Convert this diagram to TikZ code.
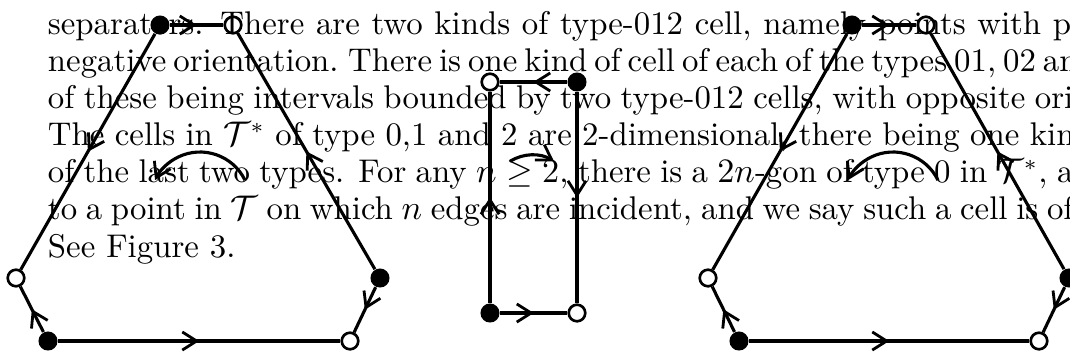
\documentclass[tikz,border=0pt]{standalone}
\usetikzlibrary{arrows.meta,decorations.markings}
\tikzset{
  x=0.32pt, y=-0.32pt,
  mybarb/.tip={Straight Barb[length=4.6pt,width=5.8pt,line width=0.9pt]},
  fdot/.style={circle,fill=black,inner sep=0pt,minimum size=6.1pt},
  odot/.style={circle,draw=black,line width=0.85pt,inner sep=0pt,minimum size=5.3pt},
  edgeline/.style={line width=1pt},
  midarr/.style={edgeline,postaction={decorate},
    decoration={markings,mark=at position 0.5 with {\arrow{mybarb}}}},
  arcline/.style={line width=1pt,-{mybarb}},
  txt/.style={anchor=base west,inner sep=0pt,outer sep=0pt,font=\fontsize{10.5pt}{12.6pt}\selectfont}
}
\begin{document}
\begin{tikzpicture}
\useasboundingbox (0,0) rectangle (1070,357);
\clip (0,0) rectangle (1070,357);
% text
\node[txt] (t1) at (48,34) {\makebox[321.6pt][s]{separators. There are two kinds of type-012 cell, namely points with \mbox{}}p};
\node[txt] (t2) at (48,71.2) {\spaceskip=0.22em plus 0.3em minus 0.08em\xspaceskip=0.3em plus 0.3em minus 0.08em\makebox[318.4pt][s]{negative orientation. There is one kind of cell of each of the types 01, 02 \mbox{}}and};
\node[txt] (t3) at (48,108.3) {\makebox[315.8pt][s]{of these being intervals bounded by two type-012 cells, with opposite \mbox{}}ori};
\node[txt] (t4) at (48,145.5) {\makebox[314.2pt][s]{The cells in $\mathcal{T}^*$ of type 0,1 and 2 are 2-dimensional, there being one \mbox{}}kin};
\node[txt] (t5) at (48,182.7) {\makebox[322.9pt][s]{of the last two types. For any $n\geq 2$, there is a $2n$-gon of type 0 in $\mathcal{T}^*$, \mbox{}}a};
\node[txt] (t6) at (48,219.8) {\makebox[319.7pt][s]{to a point in $\mathcal{T}$ on which $n$ edges are incident, and we say such a cell is \mbox{}}of};
\node[txt] (t7) at (48,257) {See Figure 3.};
% left hexagon
\node[fdot] (a1) at (160,25) {};
\node[odot] (a2) at (233,25) {};
\node[fdot] (a3) at (380,278) {};
\node[odot] (a4) at (350,341) {};
\node[fdot] (a5) at (48,341) {};
\node[odot] (a6) at (16,278) {};
\draw[midarr] (a1) -- (a2);
\draw[midarr] (a1) -- (a6);
\draw[midarr] (a3) -- (a2);
\draw[midarr] (a3) -- (a4);
\draw[midarr] (a5) -- (a4);
\draw[midarr] (a5) -- (a6);
\coordinate (ac) at (200,202);
\draw[arcline] ([shift={(-26:50)}]ac) arc[start angle=-26,end angle=-154,radius=50];
% middle rectangle
\node[odot] (b1) at (490,82) {};
\node[fdot] (b2) at (577,82) {};
\node[fdot] (b3) at (490,313) {};
\node[odot] (b4) at (577,313) {};
\draw[midarr] (b2) -- (b1);
\draw[midarr] (b3) -- (b1);
\draw[midarr] (b2) -- (b4);
\draw[midarr] (b3) -- (b4);
\coordinate (bc) at (532,196.5);
\draw[arcline] ([shift={(-122:41.5)}]bc) arc[start angle=-122,end angle=-58,radius=41.5];
% right hexagon
\node[fdot] (c1) at (852,25) {};
\node[odot] (c2) at (926,25) {};
\node[fdot] (c3) at (1069,278) {};
\node[odot] (c4) at (1039,341) {};
\node[fdot] (c5) at (739,341) {};
\node[odot] (c6) at (708,278) {};
\draw[midarr] (c1) -- (c2);
\draw[midarr] (c1) -- (c6);
\draw[midarr] (c3) -- (c2);
\draw[midarr] (c3) -- (c4);
\draw[midarr] (c5) -- (c4);
\draw[midarr] (c5) -- (c6);
\coordinate (cc) at (893,202);
\draw[arcline] ([shift={(-26:50)}]cc) arc[start angle=-26,end angle=-154,radius=50];
\end{tikzpicture}
\end{document}
